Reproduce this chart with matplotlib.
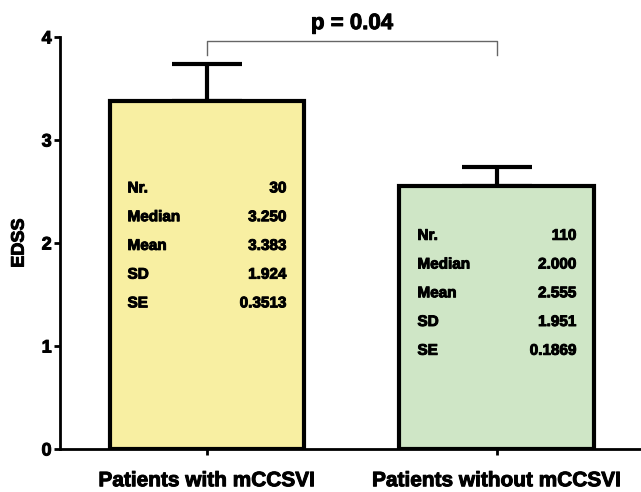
import matplotlib.pyplot as plt
import matplotlib.patheffects as pe

plt.rcParams['font.family'] = ['Liberation Sans', 'DejaVu Sans']
plt.rcParams['font.weight'] = 'bold'

# data
groups = ["Patients with mCCSVI", "Patients without mCCSVI"]
means = [3.383, 2.555]
se = [0.3513, 0.1869]
colors = ["#f8efa2", "#cfe6c6"]
stat_names = ["Nr.", "Median", "Mean", "SD", "SE"]
stat_values = [
    ["30", "3.250", "3.383", "1.924", "0.3513"],
    ["110", "2.000", "2.555", "1.951", "0.1869"],
]
stat_top = [2.53, 2.07]  # y of first stats row
p_text = "p = 0.04"

# slightly heavier text, the original looks like Helvetica Black
heavy = [pe.withStroke(linewidth=0.7, foreground="black")]

fig = plt.figure(figsize=(6.41, 4.92), dpi=100)
ax = fig.add_axes([60 / 641, 1 - 449 / 492, 1 - 60 / 641, (449 - 37) / 492])

x = [0, 1]
width = 0.672
ax.bar(x, means, width=width, color=colors, edgecolor="black", linewidth=3, zorder=2)

# upper error bars only
ax.errorbar(x, means, yerr=[[0, 0], se], fmt="none", ecolor="black",
            elinewidth=3, capsize=25, capthick=3, zorder=1)

# stats tables inside the bars
row_step = 0.279
for i in range(2):
    left = x[i] - width / 2 + 0.062
    right = x[i] + width / 2 - 0.062
    for j, (name, val) in enumerate(zip(stat_names, stat_values[i])):
        yy = stat_top[i] - j * row_step
        ax.text(left, yy, name, ha="left", va="center", fontsize=11,
                fontweight="bold", path_effects=heavy)
        ax.text(right, yy, val, ha="right", va="center", fontsize=11,
                fontweight="bold", path_effects=heavy)

# significance bracket
ax.plot([0, 0, 1, 1], [3.83, 3.96, 3.96, 3.83], color="#666666", lw=1, clip_on=False)
ax.text(0.5, 4.13, p_text, ha="center", va="center", fontsize=16,
        fontweight="bold", path_effects=heavy)

ax.set_xlim(-0.507, 1.497)
ax.set_ylim(0, 4)
ax.set_yticks([0, 1, 2, 3, 4])
ax.set_xticks(x)
ax.set_xticklabels(groups, fontsize=15, fontweight="bold")
ax.set_ylabel("EDSS", fontsize=13, fontweight="bold", labelpad=10, path_effects=heavy)
for lbl in ax.get_yticklabels() + ax.get_xticklabels():
    lbl.set_fontweight("bold")
    lbl.set_path_effects(heavy)
for lbl in ax.get_yticklabels():
    lbl.set_fontsize(13)

ax.spines["top"].set_visible(False)
ax.spines["right"].set_visible(False)
ax.spines["left"].set_linewidth(2)
ax.spines["bottom"].set_linewidth(2)
ax.tick_params(axis="y", length=4, width=2, pad=2)
ax.tick_params(axis="x", length=4, width=2, pad=12)

fig.savefig("out.png", dpi=100)
